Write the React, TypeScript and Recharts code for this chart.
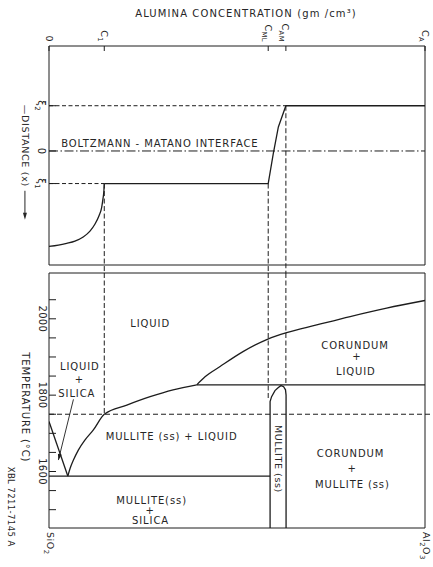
import React from 'react';
import { ComposedChart, Line, XAxis, YAxis, ReferenceLine, ReferenceArea, ReferenceDot } from 'recharts';

const W = 433;
const H = 567;
const INK = '#1d1d1d';
const TXT = '#262626';
const FONT = '"DejaVu Sans", "Liberation Sans", sans-serif';

// ---------- concentration axis (shared by both panels, C_A = 100) ----------
const C1 = 14.7;
const CML = 58.3;
const CAM = 63.0;
const CA = 100;
const concTicks = [0, C1, CML, CAM, CA];
const concTickLabels = ['0', 'C_1', 'C_{ML}', 'C_{AM}', 'C_A'];

// ---------- distance axis (upper panel) ----------
const XI1 = -0.72;
const XI2 = 1.0;
const distDomain: [number, number] = [-2.52, 2.32];
const distTicks = [XI1, 0, XI2];
const distTickLabels = ['ξ_1', '0', 'ξ_2'];
const distLowerPanelTop = -2.7;

const profileTail = [
  { c: 0, d: -2.11 },
  { c: 2.5, d: -2.08 },
  { c: 4.7, d: -2.04 },
  { c: 6.9, d: -1.99 },
  { c: 9.1, d: -1.9 },
  { c: 10.9, d: -1.77 },
  { c: 12.2, d: -1.62 },
  { c: 13.3, d: -1.43 },
  { c: 14.0, d: -1.25 },
  { c: 14.35, d: -1.06 },
  { c: 14.6, d: -0.88 },
  { c: 14.7, d: -0.72 },
];
const profileMain = [
  { c: 14.7, d: -0.72 },
  { c: 58.3, d: -0.72 },
  { c: 59.65, d: -0.06 },
  { c: 61.0, d: 0.53 },
  { c: 63.0, d: 1.0 },
  { c: 100, d: 1.0 },
];

// ---------- temperature axis (lower panel) ----------
const tempDomain: [number, number] = [1452, 2120];
const tempTicks = [1500, 1550, 1600, 1650, 1700, 1750, 1800, 1850, 1900, 1950, 2000, 2050];
const tempTickLabels = [1600, 1800, 2000];
const T_ANNEAL = 1750;
const T_EUTECTIC = 1588;
const T_PERITECTIC = 1827;
const C_PERITECTIC = 39.3;
const C_MULLITE_L = 58.8;
const T_MULLITE_TOP = 1790;
const compTicks = [0, 100];
const compTickLabels = ['SiO_2', 'Al_2O_3'];

const silicaLiquidus = [
  { c: 0, T: 1731 },
  { c: 5.0, T: 1588 },
];
const mulliteLiquidus = [
  { c: 5.0, T: 1588 },
  { c: 5.6, T: 1608 },
  { c: 6.5, T: 1630 },
  { c: 7.8, T: 1656 },
  { c: 9.6, T: 1683 },
  { c: 11.8, T: 1709 },
  { c: 14.7, T: 1750 },
  { c: 20.7, T: 1774 },
  { c: 26.9, T: 1796 },
  { c: 33.0, T: 1814 },
  { c: 39.3, T: 1827 },
];
const corundumLiquidus = [
  { c: 39.3, T: 1827 },
  { c: 41.5, T: 1848 },
  { c: 45.5, T: 1875 },
  { c: 51.6, T: 1914 },
  { c: 58.2, T: 1947 },
  { c: 63.2, T: 1964 },
  { c: 71.2, T: 1984 },
  { c: 80.1, T: 2006 },
  { c: 89.8, T: 2028 },
  { c: 100, T: 2048 },
];
const mulliteField = [
  { c: 58.8, T: 1452 },
  { c: 58.8, T: 1783 },
  { c: 59.2, T: 1796 },
  { c: 60.1, T: 1812 },
  { c: 61.0, T: 1820 },
  { c: 61.7, T: 1825 },
  { c: 62.4, T: 1822 },
  { c: 62.9, T: 1814 },
  { c: 63.05, T: 1800 },
  { c: 63.05, T: 1452 },
];
const leader = [
  { c: 6.5, T: 1789 },
  { c: 2.5, T: 1630 },
];

// ---------- annotations ----------
type Ann = { s: string; c: number; v: number; size?: number; rot?: boolean; anchor?: 'start' | 'middle' | 'end'; ls?: number };
const upperTexts: Ann[] = [
  { s: 'ALUMINA  CONCENTRATION (gm /cm³)', c: 52.4, v: 3.05, size: 10, ls: 1.1 },
  { s: 'BOLTZMANN - MATANO INTERFACE', c: 29.5, v: 0.17, size: 10, ls: 0.9 },
  { s: '—DISTANCE (x)', c: -6.4, v: 1.02, size: 9.5, rot: true, anchor: 'start', ls: 0.7 },
];
const distArrowAt = { c: -6.4, d: -0.88 };
const lowerTexts: Ann[] = [
  { s: 'LIQUID', c: 26.9, v: 1988 },
  { s: 'LIQUID', c: 8.2, v: 1875 },
  { s: '+', c: 8.1, v: 1840 },
  { s: 'SILICA', c: 7.4, v: 1804 },
  { s: 'MULLITE (ss) + LIQUID', c: 32.6, v: 1692 },
  { s: 'MULLITE(ss)', c: 27.3, v: 1525 },
  { s: '+', c: 26.9, v: 1498 },
  { s: 'SILICA', c: 27.0, v: 1472 },
  { s: 'CORUNDUM', c: 81.4, v: 1931 },
  { s: '+', c: 81.9, v: 1901 },
  { s: 'LIQUID', c: 81.6, v: 1862 },
  { s: 'CORUNDUM', c: 80.2, v: 1648 },
  { s: '+', c: 80.6, v: 1608 },
  { s: 'MULLITE (ss)', c: 80.7, v: 1565 },
  { s: 'MULLITE (ss)', c: 60.9, v: 1633, rot: true, size: 9.5, ls: 0.6 },
  { s: 'TEMPERATURE (°C)', c: -6.1, v: 1768, rot: true, size: 10, ls: 0.9 },
  { s: 'XBL 7211-7145 A', c: -10.1, v: 1508, rot: true, size: 8.5, ls: 0.4 },
];

function rich(s: string, size: number) {
  const parts: React.ReactNode[] = [];
  const re = /_\{([^}]*)\}|_(.)/g;
  let last = 0;
  let k = 0;
  let shifted = false;
  let m: RegExpExecArray | null;
  const sh = size * 0.32;
  while ((m = re.exec(s))) {
    if (m.index > last) {
      parts.push(<tspan key={k++} dy={shifted ? -sh : 0}>{s.slice(last, m.index)}</tspan>);
      shifted = false;
    }
    parts.push(
      <tspan key={k++} fontSize={size * 0.72} dy={shifted ? 0 : sh}>
        {m[1] !== undefined ? m[1] : m[2]}
      </tspan>
    );
    shifted = true;
    last = re.lastIndex;
  }
  if (last < s.length) parts.push(<tspan key={k++} dy={shifted ? -sh : 0}>{s.slice(last)}</tspan>);
  return parts;
}

function Txt({ x, y, s, size = 10, rot = false, anchor = 'middle', ls = 0.9 }: { x: number; y: number; s: string; size?: number; rot?: boolean; anchor?: 'start' | 'middle' | 'end'; ls?: number }) {
  const off = size * 0.36;
  return (
    <text
      x={x}
      y={y + off}
      transform={rot ? `rotate(90 ${x} ${y})` : undefined}
      textAnchor={anchor}
      fontFamily={FONT}
      fontSize={size}
      fill={TXT}
      letterSpacing={ls}
    >
      {rich(s, size)}
    </text>
  );
}

const annotation = (a: Ann, key: string) => (
  <ReferenceDot
    key={key}
    x={a.c}
    y={a.v}
    r={0}
    ifOverflow="visible"
    shape={(p: any) => <Txt x={p.cx} y={p.cy} s={a.s} size={a.size ?? 10} rot={a.rot} anchor={a.anchor ?? 'middle'} ls={a.ls ?? 0.9} />}
  />
);

const TopTick = (p: any) => {
  const i = concTicks.indexOf(p.payload.value);
  if (i < 0) return <g />;
  return <Txt x={p.x} y={42} s={concTickLabels[i]} size={9.5} rot anchor="end" ls={0.4} />;
};
const DistTick = (p: any) => {
  const i = distTicks.indexOf(p.payload.value);
  if (i < 0) return <g />;
  return <Txt x={42} y={p.y} s={distTickLabels[i]} size={10} rot anchor="middle" ls={0.3} />;
};
const TempTick = (p: any) => {
  const v = p.payload.value;
  if (!tempTickLabels.includes(v)) return <g />;
  return <Txt x={42.5} y={p.y} s={String(v)} size={10} rot anchor="middle" ls={0.3} />;
};
const CompTick = (p: any) => {
  const i = compTicks.indexOf(p.payload.value);
  if (i < 0) return <g />;
  return <Txt x={p.x + 1} y={532} s={compTickLabels[i]} size={9.5} rot anchor="start" ls={0.5} />;
};

const lineProps = { dot: false, activeDot: false, isAnimationActive: false, stroke: INK, strokeWidth: 1.3 } as const;
const dashV = '5 2.5';
const dashH = '4 2.5';

export default function App() {
  return (
    <div style={{ position: 'absolute', left: 0, top: 0, width: W, height: H, background: '#fff', overflow: 'hidden' }}>
      {/* upper panel: concentration profile */}
      <div style={{ position: 'absolute', left: 0, top: 0 }}>
        <ComposedChart width={W} height={H} margin={{ top: 46, right: W - 425, bottom: H - 265, left: 49 }}>
          <XAxis type="number" dataKey="c" domain={[0, CA]} allowDataOverflow orientation="top" mirror ticks={concTicks} interval={0} axisLine={false} tickLine={{ stroke: INK }} tickSize={5} tick={TopTick} />
          <YAxis type="number" domain={distDomain} allowDataOverflow mirror ticks={distTicks} interval={0} axisLine={false} tickLine={{ stroke: INK }} tickSize={7} tick={DistTick} />
          <ReferenceArea x1={0} x2={CA} y1={distDomain[0]} y2={distDomain[1]} fill="none" fillOpacity={0} stroke={INK} strokeWidth={1} ifOverflow="visible" />
          <ReferenceLine segment={[{ x: 0, y: XI2 }, { x: CAM, y: XI2 }]} stroke={INK} strokeDasharray={dashH} ifOverflow="visible" />
          <ReferenceLine segment={[{ x: 0, y: 0 }, { x: CA, y: 0 }]} stroke={INK} strokeDasharray="9 2.5 1.5 2.5" ifOverflow="visible" />
          <ReferenceLine segment={[{ x: 0, y: XI1 }, { x: C1, y: XI1 }]} stroke={INK} strokeDasharray={dashH} ifOverflow="visible" />
          <ReferenceLine segment={[{ x: C1, y: XI1 }, { x: C1, y: distLowerPanelTop }]} stroke={INK} strokeDasharray={dashV} ifOverflow="visible" />
          <ReferenceLine segment={[{ x: CML, y: XI1 }, { x: CML, y: distLowerPanelTop }]} stroke={INK} strokeDasharray={dashV} ifOverflow="visible" />
          <ReferenceLine segment={[{ x: CAM, y: XI2 }, { x: CAM, y: distLowerPanelTop }]} stroke={INK} strokeDasharray={dashV} ifOverflow="visible" />
          <Line data={profileTail} dataKey="d" type="monotone" {...lineProps} />
          <Line data={profileMain} dataKey="d" type="linear" {...lineProps} />
          {upperTexts.map((a, i) => annotation(a, `u${i}`))}
          <ReferenceDot
            x={distArrowAt.c}
            y={distArrowAt.d}
            r={0}
            ifOverflow="visible"
            shape={(p: any) => (
              <g>
                <line x1={p.cx} y1={p.cy} x2={p.cx} y2={p.cy + 23} stroke={TXT} strokeWidth={1} />
                <polygon points={`${p.cx},${p.cy + 29} ${p.cx - 2},${p.cy + 22} ${p.cx + 2},${p.cy + 22}`} fill={TXT} />
              </g>
            )}
          />
        </ComposedChart>
      </div>
      {/* lower panel: phase diagram */}
      <div style={{ position: 'absolute', left: 0, top: 0 }}>
        <ComposedChart width={W} height={H} margin={{ top: 273, right: W - 425, bottom: H - 528, left: 49 }}>
          <XAxis type="number" dataKey="c" domain={[0, CA]} allowDataOverflow orientation="bottom" mirror ticks={compTicks} interval={0} axisLine={false} tickLine={false} tick={CompTick} />
          <YAxis type="number" domain={tempDomain} allowDataOverflow mirror ticks={tempTicks} interval={0} axisLine={false} tickLine={{ stroke: INK }} tickSize={7} tick={TempTick} />
          <ReferenceArea x1={0} x2={CA} y1={tempDomain[0]} y2={tempDomain[1]} fill="none" fillOpacity={0} stroke={INK} strokeWidth={1} ifOverflow="visible" />
          <ReferenceLine segment={[{ x: 0, y: T_ANNEAL }, { x: 102.2, y: T_ANNEAL }]} stroke={INK} strokeDasharray="5 3" ifOverflow="visible" />
          <ReferenceLine segment={[{ x: C1, y: tempDomain[1] }, { x: C1, y: T_ANNEAL }]} stroke={INK} strokeDasharray={dashV} ifOverflow="visible" />
          <ReferenceLine segment={[{ x: CML, y: tempDomain[1] }, { x: CML, y: T_MULLITE_TOP }]} stroke={INK} strokeDasharray={dashV} ifOverflow="visible" />
          <ReferenceLine segment={[{ x: CAM, y: tempDomain[1] }, { x: CAM, y: T_PERITECTIC }]} stroke={INK} strokeDasharray={dashV} ifOverflow="visible" />
          <ReferenceLine segment={[{ x: 0, y: T_EUTECTIC }, { x: C_MULLITE_L, y: T_EUTECTIC }]} stroke={INK} strokeWidth={1.3} ifOverflow="visible" />
          <ReferenceLine segment={[{ x: C_PERITECTIC, y: T_PERITECTIC }, { x: CA, y: T_PERITECTIC }]} stroke={INK} strokeWidth={1.3} ifOverflow="visible" />
          <Line data={silicaLiquidus} dataKey="T" type="linear" {...lineProps} />
          <Line data={mulliteLiquidus} dataKey="T" type="monotone" {...lineProps} />
          <Line data={corundumLiquidus} dataKey="T" type="monotone" {...lineProps} />
          <Line data={mulliteField} dataKey="T" type="linear" {...lineProps} />
          <Line data={leader} dataKey="T" type="linear" {...lineProps} strokeWidth={0.9} />
          <ReferenceDot
            x={leader[1].c}
            y={leader[1].T}
            r={0}
            ifOverflow="visible"
            shape={(p: any) => (
              <polygon points="0,0 -6,-2 -6,2" fill={INK} transform={`translate(${p.cx} ${p.cy}) rotate(104)`} />
            )}
          />
          {lowerTexts.map((a, i) => annotation(a, `l${i}`))}
        </ComposedChart>
      </div>
    </div>
  );
}
